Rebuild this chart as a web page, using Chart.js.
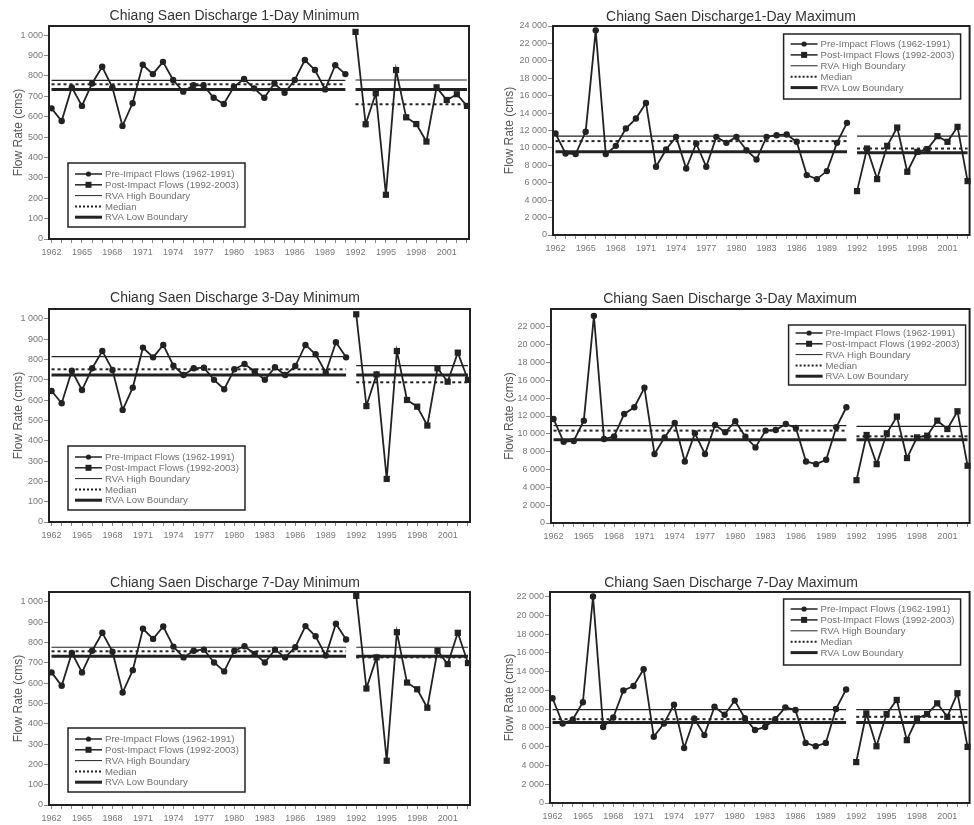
<!DOCTYPE html>
<html><head><meta charset="utf-8">
<script src="https://cdn.jsdelivr.net/npm/chart.js@4.4.1/dist/chart.umd.min.js"></script>
<style>
html,body{margin:0;padding:0;background:#fff;}
body{width:974px;height:825px;position:relative;overflow:hidden;}
canvas{position:absolute;}
</style></head><body>
<canvas id="c1" width="487" height="270" style="left:0;top:0"></canvas>
<canvas id="c2" width="484" height="270" style="left:490px;top:0"></canvas>
<canvas id="c3" width="487" height="270" style="left:0;top:282px"></canvas>
<canvas id="c4" width="484" height="270" style="left:490px;top:282px"></canvas>
<canvas id="c5" width="487" height="259" style="left:0;top:566px"></canvas>
<canvas id="c6" width="484" height="259" style="left:490px;top:566px"></canvas>
<script>
// ---- data ----
const preYears = [1962,1963,1964,1965,1966,1967,1968,1969,1970,1971,1972,1973,1974,1975,1976,1977,1978,1979,1980,1981,1982,1983,1984,1985,1986,1987,1988,1989,1990,1991];
const postYears = [1992,1993,1994,1995,1996,1997,1998,1999,2000,2001,2002,2003];
const xLabelYears = [1962,1965,1968,1971,1974,1977,1980,1983,1986,1989,1992,1995,1998,2001];
const minTicks = [0,100,200,300,400,500,600,700,800,900,1000];
const maxTicks24 = [0,2000,4000,6000,8000,10000,12000,14000,16000,18000,20000,22000,24000];
const maxTicks22 = [0,2000,4000,6000,8000,10000,12000,14000,16000,18000,20000,22000];
const legendLabels = ['Pre-Impact Flows (1962-1991)','Post-Impact Flows (1992-2003)','RVA High Boundary','Median','RVA Low Boundary'];

const min1Pre = [641,579,744,653,763,845,744,555,666,855,809,869,780,723,754,754,693,662,747,785,739,693,763,717,780,878,829,734,853,809];
const min1Post = [1016,563,715,217,829,597,564,478,744,682,710,653];
const min1RvaPre = [778,759,734];   // high, median, low
const min1RvaPost = [780,661,734];

const max1Pre = [11650,9360,9290,11850,23500,9290,10240,12230,13370,15170,7830,9820,11270,7640,10510,7830,11270,10580,11270,9740,8670,11270,11460,11540,10700,6880,6420,7340,10580,12880];
const max1Post = [5040,9930,6420,10240,12340,7260,9550,9860,11350,10700,12420,6190];
const max1RvaPre = [11350,10780,9550];
const max1RvaPost = [11350,9930,9440];

const min3Pre = [645,585,745,650,757,842,749,552,662,859,811,872,770,724,757,760,700,654,752,778,741,700,762,724,768,872,826,736,885,811];
const min3Post = [1023,571,727,212,842,601,568,475,757,691,834,700];
const min3RvaPre = [814,752,724];
const min3RvaPost = [770,688,724];

const max3Pre = [11670,9100,9200,11480,23230,9420,9720,12230,12980,15160,7730,9600,11220,6900,10060,7730,10990,10170,11410,9680,8480,10360,10430,11100,10660,6900,6600,7090,10730,12980];
const max3Post = [4800,9870,6600,10060,11930,7280,9600,9790,11480,10540,12530,6420];
const max3RvaPre = [10920,10360,9340];
const max3RvaPost = [10840,9720,9340];

const min7Pre = [653,587,749,653,760,848,755,554,664,868,818,879,780,727,760,765,702,658,760,782,744,702,765,727,777,881,831,736,893,815];
const min7Post = [1030,574,727,218,851,603,570,479,760,694,848,699];
const min7RvaPre = [777,757,732];
const min7RvaPost = [777,727,732];

const max7Pre = [11170,8470,8900,10740,22020,8110,9120,12000,12470,14270,7060,8470,10490,5870,9010,7240,10270,9410,10920,9050,7780,8110,8940,10200,9910,6410,6050,6410,10020,12110];
const max7Post = [4360,9550,6050,9480,10990,6700,9010,9480,10630,9190,11710,5980];
const max7RvaPre = [9950,8940,8580];
const max7RvaPost = [9950,9190,8580];

// ---- rendering ----
const FONT = '"Liberation Sans", Arial, sans-serif';
const INK = '#222';
const allYears = preYears.concat(postYears);
const fmt = v => String(v).replace(/\B(?=(\d{3})+(?!\d))/g, ' ');

const framePlugin = {
  id: 'frame',
  afterDatasetsDraw(chart) {
    const {ctx, chartArea: a} = chart;
    ctx.save();
    ctx.strokeStyle = INK; ctx.lineWidth = 2;
    ctx.strokeRect(a.left, a.top, a.right - a.left, a.bottom - a.top);
    ctx.restore();
  }
};

const boxLegend = {
  id: 'boxLegend',
  afterDraw(chart, args, o) {
    if (!o || !o.w) return;
    const {ctx, chartArea: a} = chart;
    const x0 = o.anchor === 'right' ? a.right - o.dx - o.w : a.left + o.dx;
    const y0 = a.top + o.dy;
    ctx.save();
    ctx.fillStyle = '#fff';
    ctx.fillRect(x0, y0, o.w, o.h);
    ctx.strokeStyle = INK; ctx.lineWidth = 1.5;
    ctx.strokeRect(x0, y0, o.w, o.h);
    ctx.font = '9.6px ' + FONT;
    ctx.textBaseline = 'middle';
    legendLabels.forEach((lab, i) => {
      const y = y0 + o.first + i * o.step;
      const lx1 = x0 + 7, lx2 = x0 + 34;
      ctx.strokeStyle = INK; ctx.fillStyle = INK;
      ctx.setLineDash(i === 3 ? [2, 2] : []);
      ctx.lineWidth = [1.5, 1.5, 1, 2, 3][i];
      ctx.beginPath(); ctx.moveTo(lx1, y); ctx.lineTo(lx2, y); ctx.stroke();
      ctx.setLineDash([]);
      const mx = (lx1 + lx2) / 2;
      if (i === 0) { ctx.beginPath(); ctx.arc(mx, y, 2.6, 0, Math.PI * 2); ctx.fill(); }
      if (i === 1) { ctx.fillRect(mx - 3, y - 3, 6, 6); }
      ctx.fillStyle = '#707070';
      ctx.fillText(lab, x0 + 37, y + 0.5);
    });
    ctx.restore();
  }
};

function seg(years, v) { return [{x: years[0], y: v}, {x: years[years.length - 1], y: v}]; }
function pts(years, vals) { return years.map((y, i) => ({x: y, y: vals[i]})); }

function makeChart(id, p) {
  const boundDs = (years, b) => [
    {data: seg(years, b[0]), borderColor: INK, borderWidth: 1.2, pointRadius: 0, order: 5},
    {data: seg(years, b[1]), borderColor: INK, borderWidth: 2, borderDash: [3, 3], pointRadius: 0, order: 5},
    {data: seg(years, b[2]), borderColor: INK, borderWidth: 3, pointRadius: 0, order: 5}
  ];
  const datasets = [
    {data: pts(preYears, p.pre), borderColor: INK, backgroundColor: INK, borderWidth: 1.8,
     pointStyle: 'circle', pointRadius: 3.2, pointBorderWidth: 0, order: 1},
    {data: pts(postYears, p.post), borderColor: INK, backgroundColor: INK, borderWidth: 1.8,
     pointStyle: 'rect', pointRadius: 4.4, pointBorderWidth: 0, order: 1}
  ].concat(boundDs(preYears, p.rvaPre), boundDs(postYears, p.rvaPost));
  datasets.forEach(d => { d.clip = false; d.tension = 0; d.fill = false; });

  return new Chart(document.getElementById(id), {
    type: 'line',
    data: {datasets},
    plugins: [framePlugin, boxLegend],
    options: {
      responsive: false, animation: false, devicePixelRatio: 1,
      layout: {padding: {left: 0, right: p.rightPad, top: 0, bottom: 0}},
      plugins: {
        legend: {display: false}, tooltip: {enabled: false},
        title: {display: true, text: p.title, color: '#333',
          font: {size: 14, weight: 'normal', family: FONT, lineHeight: 1.2},
          padding: {top: p.tTop, bottom: p.tBottom}},
        boxLegend: p.legend
      },
      scales: {
        x: {
          type: 'linear', min: 1961.75, max: 2003.2,
          afterBuildTicks: s => { s.ticks = allYears.map(v => ({value: v})); },
          afterFit: s => { s.height = p.xH; },
          ticks: {autoSkip: false, maxRotation: 0, minRotation: 0, padding: 4, color: '#777',
            font: {size: 9, family: FONT},
            callback: v => xLabelYears.includes(v) ? String(v) : ''},
          grid: {drawOnChartArea: false, drawTicks: true, tickLength: 4, color: '#888'},
          border: {display: false}
        },
        y: {
          type: 'linear', min: 0, max: p.yMax,
          afterBuildTicks: s => { s.ticks = p.yTicks.map(v => ({value: v})); },
          afterFit: s => { s.width = p.yW; },
          ticks: {padding: 1, color: '#777', font: {size: 9, family: FONT}, callback: v => fmt(v)},
          grid: {drawOnChartArea: false, drawTicks: true, tickLength: 5, color: '#888'},
          border: {display: false},
          title: {display: true, text: 'Flow Rate (cms)', color: '#555',
            font: {size: 12, family: FONT, lineHeight: 1.2}, padding: {top: p.yTitlePad, bottom: 0}}
        }
      }
    }
  });
}

const legLeft = top => ({anchor: 'left', dx: 19, dy: top, w: 177, h: 64, first: 11, step: 10.8});
const legRight = (dx, dy, h, first, step) => ({anchor: 'right', dx, dy, w: 177, h, first, step});

makeChart('c1', {title: 'Chiang Saen Discharge 1-Day Minimum', pre: min1Pre, post: min1Post,
  rvaPre: min1RvaPre, rvaPost: min1RvaPost, yMax: 1045, yTicks: minTicks,
  yW: 49, rightPad: 18, tTop: 7.6, tBottom: 1.6, xH: 31, yTitlePad: 11, legend: legLeft(137)});
makeChart('c2', {title: 'Chiang Saen Discharge1-Day Maximum', pre: max1Pre, post: max1Post,
  rvaPre: max1RvaPre, rvaPost: max1RvaPost, yMax: 24000, yTicks: maxTicks24,
  yW: 63, rightPad: 2, tTop: 8.6, tBottom: 0.6, xH: 35, yTitlePad: 12, legend: legRight(9, 8, 65, 10, 10.9)});
makeChart('c3', {title: 'Chiang Saen Discharge 3-Day Minimum', pre: min3Pre, post: min3Post,
  rvaPre: min3RvaPre, rvaPost: min3RvaPost, yMax: 1049, yTicks: minTicks,
  yW: 49, rightPad: 17, tTop: 7.6, tBottom: 2.6, xH: 30, yTitlePad: 11, legend: legLeft(137)});
makeChart('c4', {title: 'Chiang Saen Discharge 3-Day Maximum', pre: max3Pre, post: max3Post,
  rvaPre: max3RvaPre, rvaPost: max3RvaPost, yMax: 24000, yTicks: maxTicks22,
  yW: 61, rightPad: 4, tTop: 8.6, tBottom: 1.6, xH: 29, yTitlePad: 12, legend: legRight(4, 16, 60, 8, 10.8)});
makeChart('c5', {title: 'Chiang Saen Discharge 7-Day Minimum', pre: min7Pre, post: min7Post,
  rvaPre: min7RvaPre, rvaPost: min7RvaPost, yMax: 1049, yTicks: minTicks,
  yW: 49, rightPad: 17, tTop: 8.6, tBottom: 0.6, xH: 20, yTitlePad: 11, legend: legLeft(136)});
makeChart('c6', {title: 'Chiang Saen Discharge 7-Day Maximum', pre: max7Pre, post: max7Post,
  rvaPre: max7RvaPre, rvaPost: max7RvaPost, yMax: 22500, yTicks: maxTicks22,
  yW: 60, rightPad: 2, tTop: 8.6, tBottom: 0.6, xH: 22, yTitlePad: 12, legend: legRight(9, 7, 66, 10, 10.9)});
</script>
</body></html>
